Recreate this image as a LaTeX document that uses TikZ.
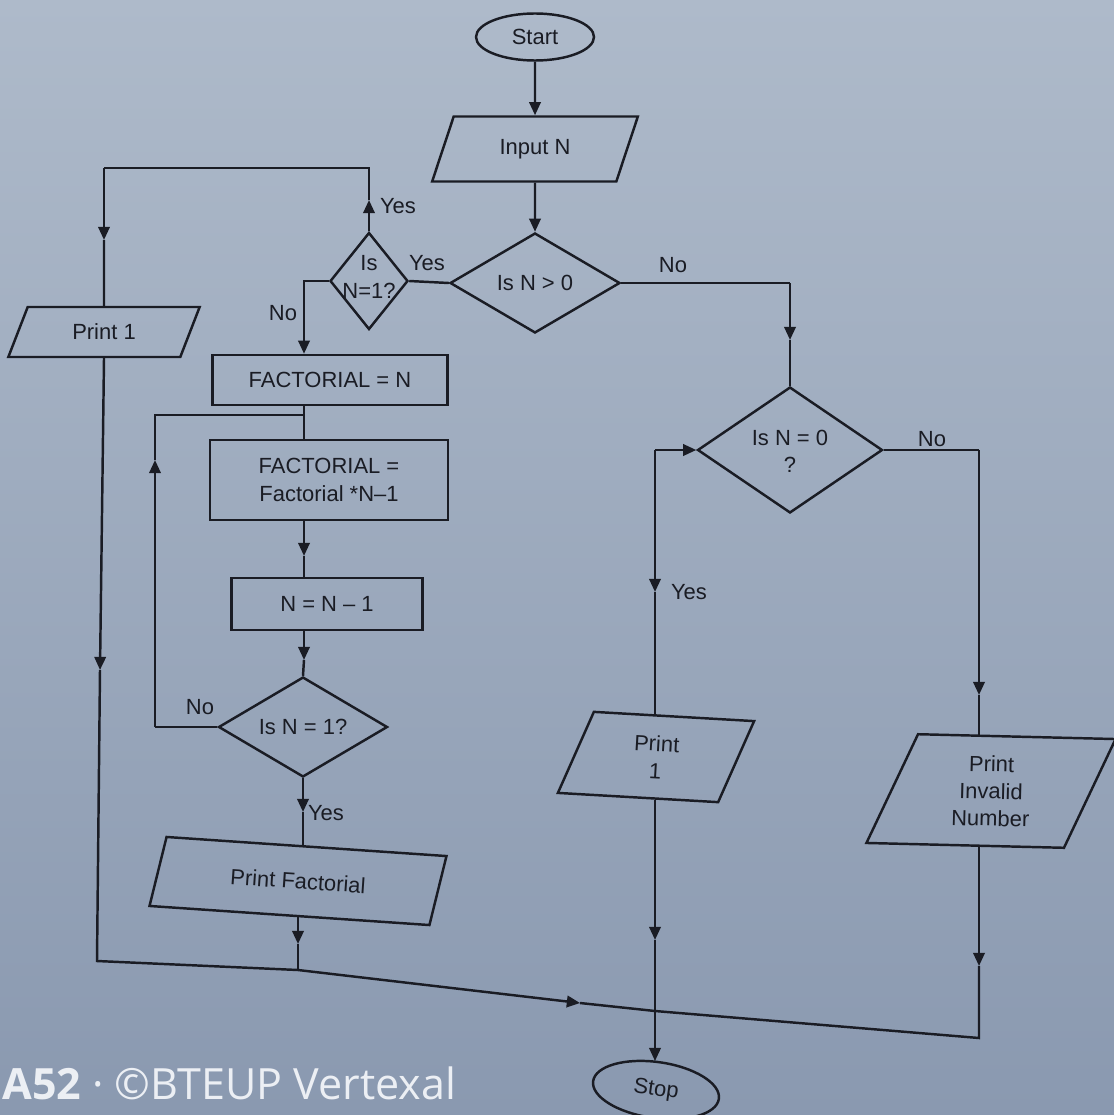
\documentclass[tikz,border=0pt]{standalone}
\usepackage{fontspec}
\setmainfont{Liberation Sans}
\newfontfamily\chartfont[Ligatures=TeX]{Liberation Sans}
\newfontfamily\wmfont{Open Sans}
\usetikzlibrary{shapes.geometric,arrows.meta}
\definecolor{ink}{RGB}{26,28,36}
\definecolor{paperTop}{RGB}{174,186,202}
\definecolor{paperBot}{RGB}{138,153,176}
\definecolor{imprint}{RGB}{236,239,244}
\newcommand\fcfont{\chartfont\fontsize{12.5}{15.5}\selectfont}

\begin{document}
\begin{tikzpicture}[x=0.02cm,y=-0.02cm,
  ln/.style={draw=ink,line width=1.4pt,line join=miter},
  arr/.style={ln,-{Triangle[length=7.5pt,width=6.5pt]}},
  shp/.style={draw=ink,line width=1.4pt,inner sep=0pt,align=center,font=\fcfont,text=ink},
  proc/.style={shp,rectangle},
  io/.style={shp,trapezium,trapezium stretches=true},
  dec/.style={shp,diamond},
  term/.style={shp,ellipse},
  lbl/.style={font=\fcfont,text=ink,inner sep=0pt,align=center},
]
% paper
\useasboundingbox (0,0) rectangle (1114,1115);
\shade[top color=paperTop,bottom color=paperBot] (0,0) rectangle (1114,1115);

% ---------- shapes ----------
\node[term,minimum width=2.36cm,minimum height=0.94cm] (start) at (535,37) {Start};
\node[io,minimum width=4.12cm,minimum height=1.3cm,
      trapezium left angle=64.5,trapezium right angle=115.5] (inp) at (535,149) {Input N};

\node[dec,minimum width=3.4cm,minimum height=2.0cm] (d0) at (535,283) {};
\node[lbl] (d0t) at (d0) {Is N > 0};

\node[dec,minimum width=1.56cm,minimum height=1.94cm] (d1) at (369,281) {};
\node[lbl] (d1t) at (369,277) {Is\\N=1?};

\node[io,minimum width=3.84cm,minimum height=1.0cm,
      trapezium left angle=63.4,trapezium right angle=116.6] (p1) at (104,332) {Print 1};

\node[proc,minimum width=4.7cm,minimum height=1.0cm] (f1) at (330,380) {FACTORIAL = N};
\node[proc,minimum width=4.76cm,minimum height=1.6cm] (f2) at (329,480) {FACTORIAL =\\Factorial *N–1};
\node[proc,minimum width=3.82cm,minimum height=1.04cm] (f3) at (327,604) {N = N – 1};

\node[dec,minimum width=3.38cm,minimum height=2.0cm] (d2) at (303,727) {};
\node[lbl] (d2t) at (d2) {Is N = 1?};

\node[io,rotate=-3.9,minimum width=5.9cm,minimum height=1.4cm,
      trapezium left angle=68.9,trapezium right angle=111.1] (pf) at (298,881) {Print Factorial};

\node[dec,minimum width=3.7cm,minimum height=2.52cm] (d3) at (790,450) {};
\node[lbl] (d3t) at (790,451) {Is N = 0\\?};

\node[io,rotate=-3.3,minimum width=3.84cm,minimum height=1.66cm,
      trapezium left angle=75.8,trapezium right angle=104.2] (p2) at (656,757) {Print\\1};

\node[io,rotate=-1.4,minimum width=4.96cm,minimum height=2.2cm,
      trapezium left angle=70,trapezium right angle=110] (pin) at (991,791) {Print\\Invalid\\Number};

\node[term,rotate=-8,minimum width=2.54cm,minimum height=1.12cm] (stop) at (656,1090) {Stop};

% ---------- bend points ----------
\coordinate (c1) at (369,200);
\coordinate (c2) at (369,168);
\coordinate (c3) at (104,168);
\coordinate (c4) at (104,240);
\coordinate (c5) at (304,281);
\coordinate (c8) at (304,556);
\coordinate (c8b) at (304,660);
\coordinate (c9) at (155,727);
\coordinate (c10) at (155,460);
\coordinate (c11) at (155,415);
\coordinate (c12) at (304,415);
\coordinate (c13) at (303,812);
\coordinate (c14) at (298,944);
\coordinate (l1) at (100,670);
\coordinate (b1) at (97,961);
\coordinate (b2) at (298,970);
\coordinate (b3) at (580,1003);
\coordinate (b4) at (655,1011);
\coordinate (b5) at (979,1038);
\coordinate (r0) at (790,283);
\coordinate (r0a) at (790,340);
\coordinate (r1) at (979,450);
\coordinate (r2) at (979,695);
\coordinate (r3) at (979,966);
\coordinate (y1) at (655,450);
\coordinate (y2) at (655,592);
\coordinate (y3) at (655,940);

% ---------- main flow ----------
\draw[arr] (start.south) -- (inp.north);
\draw[arr] (inp.south) -- (d0.north);
\draw[ln] (d0.west) -- (d1.east);

% N = 1 at the start: print 1
\draw[arr] (d1.north) -- (c1);
\draw[ln] (c1) -- (c2) -- (c3);
\draw[arr] (c3) -- (c4);
\draw[ln] (c4) -- (p1.north);
\draw[arr] (p1.south) -- (l1);
\draw[ln] (l1) -- (b1) -- (b2);

% factorial loop
\draw[arr] (d1.west) -- (c5) -- (c5 |- f1.north);
\draw[ln] (c5 |- f1.south) -- (c5 |- f2.north);
\draw[arr] (c5 |- f2.south) -- (c8);
\draw[ln] (c8) -- (c5 |- f3.north);
\draw[arr] (c5 |- f3.south) -- (c8b);
\draw[ln] (c8b) -- (d2.north);
\draw[ln] (d2.west) -- (c9);
\draw[arr] (c9) -- (c10);
\draw[ln] (c10) -- (c11) -- (c12);
\draw[arr] (d2.south) -- (c13);
\draw[ln] (c13) -- (c13 |- pf.north);
\draw[arr] (c14 |- pf.south) -- (c14);
\draw[ln] (c14) -- (b2);

% joining line to Stop
\draw[arr] (b2) -- (b3);
\draw[ln] (b3) -- (b4);

% N not positive
\draw[ln] (d0.east) -- (r0);
\draw[arr] (r0) -- (r0a);
\draw[ln] (r0a) -- (d3.north);
\draw[ln] (d3.east) -- (r1);
\draw[arr] (r1) -- (r2);
\draw[ln] (r2) -- (r2 |- pin.north);
\draw[arr] (r2 |- pin.south) -- (r3);
\draw[ln] (r3) -- (b5) -- (b4);

\draw[arr] (y1) -- (d3.west);
\draw[arr] (y1) -- (y2);
\draw[ln] (y2) -- (y2 |- p2.north);
\draw[arr] (y2 |- p2.south) -- (y3);
\draw[ln] (y3) -- (b4);
\draw[arr] (b4) -- (b4 |- stop.north);

% ---------- branch labels ----------
\node[lbl] (lyes1) at (427,263) {Yes};
\node[lbl] (lyes2) at (398,206) {Yes};
\node[lbl] (lno1) at (283,313) {No};
\node[lbl] (lno2) at (200,707) {No};
\node[lbl] (lyes3) at (326,813) {Yes};
\node[lbl] (lno3) at (673,265) {No};
\node[lbl] (lno4) at (932,439) {No};
\node[lbl] (lyes4) at (689,592) {Yes};

% ---------- imprint ----------
\node[anchor=west,inner sep=0pt,text=imprint,font=\wmfont\fontsize{24.5}{30}\selectfont] (wm) at (2,1083)
  {\textbf{A52} · ©BTEUP Vertexal};
\end{tikzpicture}
\end{document}
